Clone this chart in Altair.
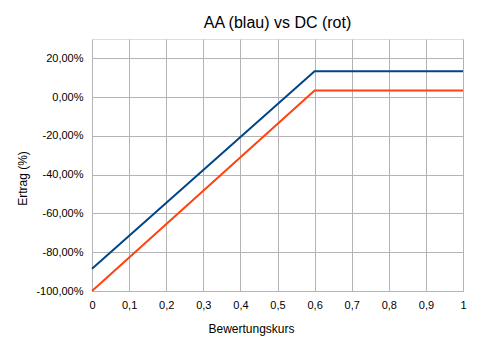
import altair as alt
import pandas as pd

# Data
kurs = [0.0, 0.6, 1.0]
aa_blau = [-0.885, 0.133, 0.133]
dc_rot = [-1.0, 0.034, 0.034]
series_names = ["AA", "DC"]
series_colors = ["#004586", "#ff420e"]
x_ticks = [0, 0.1, 0.2, 0.3, 0.4, 0.5, 0.6, 0.7, 0.8, 0.9, 1.0]
y_ticks = [-1.0, -0.8, -0.6, -0.4, -0.2, 0.0, 0.2]

rows = []
for k, v in zip(kurs, aa_blau):
    rows.append({"Bewertungskurs": k, "Ertrag": v, "Serie": "AA"})
for k, v in zip(kurs, dc_rot):
    rows.append({"Bewertungskurs": k, "Ertrag": v, "Serie": "DC"})
df = pd.DataFrame(rows)

FONT = "Liberation Sans"
GRID = "#b3b3b3"

chart = (
    alt.Chart(df)
    .mark_line(strokeWidth=2)
    .encode(
        x=alt.X(
            "Bewertungskurs:Q",
            scale=alt.Scale(domain=[0, 1], nice=False),
            axis=alt.Axis(
                title="Bewertungskurs",
                values=x_ticks,
                labelExpr="replace(format(datum.value, '.1~f'), '.', ',')",
                grid=True,
                gridColor=GRID,
                domain=False,
                ticks=False,
                labelPadding=8,
                labelFontSize=11,
                labelColor="#000000",
                labelFont=FONT,
                titleFont=FONT,
                titleFontSize=12,
                titleFontWeight="normal",
                titleColor="#000000",
                titleX=159,
                titleY=41,
                titleAlign="center",
                titleBaseline="alphabetic",
                labelFlush=False,
            ),
        ),
        y=alt.Y(
            "Ertrag:Q",
            scale=alt.Scale(domain=[-1.0, 0.3], nice=False, zero=False),
            axis=alt.Axis(
                title="Ertrag (%)",
                values=y_ticks,
                labelExpr="(datum.value < -0.0001 ? '-' : '') + replace(format(abs(datum.value), '.2%'), '.', ',')",
                grid=True,
                gridColor=GRID,
                domain=False,
                ticks=False,
                labelPadding=9,
                labelFontSize=11,
                labelColor="#000000",
                labelFont=FONT,
                titleFont=FONT,
                titleFontSize=12,
                titleFontWeight="normal",
                titleColor="#000000",
                titleX=-70,
                titleY=139,
                titleAngle=-90,
                titleAlign="center",
                titleBaseline="middle",
                labelFlush=False,
            ),
        ),
        color=alt.Color(
            "Serie:N",
            scale=alt.Scale(domain=series_names, range=series_colors),
            legend=None,
        ),
    )
    .properties(
        width=371,
        height=252,
        title=alt.TitleParams(
            "AA (blau) vs DC (rot)",
            font=FONT,
            fontSize=16,
            fontWeight="normal",
            color="#000000",
            anchor="middle",
            offset=8,
        ),
        autosize=alt.AutoSizeParams(type="none"),
        padding={"left": 92, "top": 39, "right": 16, "bottom": 58},
    )
    .configure_view(stroke=GRID, strokeWidth=1)
    .configure(background="#ffffff")
)

chart.save("out.html", embed_options={"renderer": "svg", "actions": False})
